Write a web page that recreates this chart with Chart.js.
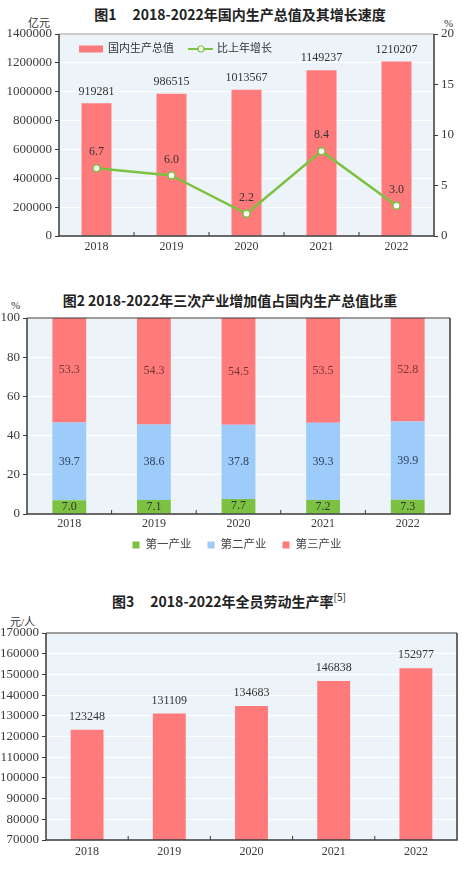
<!DOCTYPE html>
<html lang="zh">
<head>
<meta charset="UTF-8">
<title>2018-2022年国民经济图表</title>
<script src="https://cdn.jsdelivr.net/npm/chart.js@4.4.0/dist/chart.umd.min.js"></script>
<style>
  body { margin: 0; background: #fff; }
  #page { position: relative; width: 474px; height: 872px; overflow: hidden; }
  canvas { position: absolute; left: 0; }
  .title { position: absolute; text-align: center; font: bold 14px 'Noto Sans CJK SC', sans-serif; color: #222; line-height: 20px; white-space: pre; }
  .title .gap { display: inline-block; width: 16px; }
  .title sup { font-size: 10px; font-weight: normal; vertical-align: 6px; line-height: 0; }
  .unit { position: absolute; font: 11px 'Liberation Serif', 'Noto Sans CJK SC', serif; color: #333; line-height: 14px; }
</style>
</head>
<body>
<div id="page">
  <div class="title" style="left:0;width:480px;top:4px">图1<span class="gap"></span>2018-2022年国内生产总值及其增长速度</div>
  <div class="unit" style="left:28px;top:16px">亿元</div>
  <div class="unit" style="left:444px;top:16px">%</div>
  <canvas id="gdpChart" width="474" height="262" style="top:0"></canvas>

  <div class="title" style="left:0;width:460px;top:290px">图2 2018-2022年三次产业增加值占国内生产总值比重</div>
  <div class="unit" style="left:11px;top:298px">%</div>
  <canvas id="shareChart" width="474" height="318" style="top:262px"></canvas>

  <div class="title" style="left:0;width:458px;top:591px">图3<span class="gap"></span>2018-2022年全员劳动生产率<sup>[5]</sup></div>
  <div class="unit" style="left:10px;top:615px">元/人</div>
  <canvas id="laborChart" width="474" height="292" style="top:580px"></canvas>
</div>
<script>
  const years = ['2018', '2019', '2020', '2021', '2022']
  // 图1 国内生产总值（亿元）及比上年增长（%）
  const gdp = [919281, 986515, 1013567, 1149237, 1210207]
  const gdpGrowth = [6.7, 6.0, 2.2, 8.4, 3.0]
  // 图2 三次产业增加值占比（%）
  const primaryShare = [7.0, 7.1, 7.7, 7.2, 7.3]
  const secondaryShare = [39.7, 38.6, 37.8, 39.3, 39.9]
  const tertiaryShare = [53.3, 54.3, 54.5, 53.5, 52.8]
  // 图3 全员劳动生产率（元/人）
  const productivity = [123248, 131109, 134683, 146838, 152977]

  const red = '#FF7B7B'
  const green = '#7DC142'
  const blue = '#9DCBFA'
  const axisColor = '#3a3a3a'
  const serif = "'Liberation Serif', 'Noto Sans CJK SC', serif"

  // light plot background, frame and inward category ticks
  const plotFrame = {
    id: 'plotFrame',
    beforeDraw(chart) {
      const { ctx, chartArea: a } = chart
      ctx.save()
      ctx.fillStyle = '#EDF4F9'
      ctx.fillRect(a.left, a.top, a.width, a.height)
      ctx.restore()
    },
    afterDatasetsDraw(chart, args, opts) {
      const { ctx, chartArea: a, scales: { x } } = chart
      ctx.save()
      ctx.strokeStyle = opts.topColor || '#555'
      ctx.lineWidth = 1
      ctx.beginPath()
      ctx.moveTo(a.left, a.top)
      ctx.lineTo(a.right, a.top)
      ctx.stroke()
      ctx.strokeStyle = axisColor
      ctx.lineWidth = 1.5
      ctx.beginPath()
      ctx.moveTo(a.left, a.top)
      ctx.lineTo(a.left, a.bottom)
      ctx.lineTo(a.right, a.bottom)
      ctx.lineTo(a.right, a.top)
      ctx.stroke()
      ctx.lineWidth = 1
      ctx.beginPath()
      for (let i = 0; i < x.ticks.length - 1; i++) {
        const px = (x.getPixelForTick(i) + x.getPixelForTick(i + 1)) / 2
        ctx.moveTo(px, a.bottom)
        ctx.lineTo(px, a.bottom - 4)
      }
      ctx.stroke()
      ctx.restore()
    }
  }

  // value labels, configured per dataset through `valueLabel`
  const valueLabels = {
    id: 'valueLabels',
    afterDatasetsDraw(chart) {
      const { ctx } = chart
      ctx.save()
      ctx.font = '12px ' + serif
      ctx.textAlign = 'center'
      ctx.textBaseline = 'middle'
      chart.data.datasets.forEach((ds, di) => {
        const lab = ds.valueLabel
        if (!lab) return
        ctx.fillStyle = lab.color
        chart.getDatasetMeta(di).data.forEach((el, i) => {
          const v = ds.data[i]
          const text = lab.decimals != null ? v.toFixed(lab.decimals) : String(v)
          const p = el.getProps(['x', 'y', 'base'], true)
          const y = lab.center ? (p.y + p.base) / 2 : p.y - lab.offset
          ctx.fillText(text, p.x, y)
        })
      })
      ctx.restore()
    }
  }

  const gdpLegend = {
    id: 'gdpLegend',
    afterDraw(chart) {
      const { ctx, chartArea: a } = chart
      const y = a.top + 15
      ctx.save()
      ctx.font = '11px ' + serif
      ctx.textBaseline = 'middle'
      ctx.fillStyle = red
      ctx.fillRect(a.left + 20, y - 3.5, 24, 7)
      ctx.fillStyle = '#333'
      ctx.fillText(chart.data.datasets[0].label, a.left + 49, y)
      ctx.strokeStyle = green
      ctx.lineWidth = 2
      ctx.beginPath()
      ctx.moveTo(a.left + 129, y)
      ctx.lineTo(a.left + 154, y)
      ctx.stroke()
      ctx.beginPath()
      ctx.arc(a.left + 142, y, 3, 0, Math.PI * 2)
      ctx.fillStyle = '#fff'
      ctx.fill()
      ctx.lineWidth = 1.2
      ctx.stroke()
      ctx.fillStyle = '#333'
      ctx.fillText(chart.data.datasets[1].label, a.left + 158, y)
      ctx.restore()
    }
  }

  const shareLegend = {
    id: 'shareLegend',
    afterDraw(chart) {
      const { ctx } = chart
      const y = 283
      ctx.save()
      ctx.font = '11.5px ' + serif
      ctx.textBaseline = 'middle'
      const items = chart.data.datasets.map(ds => ({ label: ds.label, color: ds.backgroundColor, w: 7 + 6 + ctx.measureText(ds.label).width }))
      const total = items.reduce((s, it) => s + it.w, 0) + 16 * (items.length - 1)
      let x = chart.width / 2 - total / 2
      items.forEach(it => {
        ctx.fillStyle = it.color
        ctx.fillRect(x, y - 3.5, 7, 7)
        ctx.fillStyle = '#444'
        ctx.fillText(it.label, x + 13, y)
        x += it.w + 16
      })
      ctx.restore()
    }
  }

  const tickFont = { family: serif, size: 13 }
  const xAxis = (height, pad) => ({
    grid: { display: false, drawTicks: false },
    border: { display: false },
    ticks: { color: axisColor, font: { family: serif, size: 12 }, padding: pad },
    afterFit: s => { s.height = height }
  })
  const yAxis = (width, min, max, step, extra) => Object.assign({
    min: min, max: max,
    grid: { color: '#ffffff', lineWidth: 1, tickColor: axisColor, tickLength: 4 },
    border: { display: false },
    ticks: { stepSize: step, color: axisColor, font: tickFont, autoSkip: false, callback: v => String(v) },
    afterFit: s => { s.width = width }
  }, extra || {})

  const common = {
    responsive: false,
    animation: false,
    events: [],
    plugins: { legend: { display: false }, tooltip: { enabled: false } }
  }

  new Chart(document.getElementById('gdpChart'), {
    type: 'bar',
    data: {
      labels: years,
      datasets: [
        {
          label: '国内生产总值',
          data: gdp,
          backgroundColor: red,
          barPercentage: 0.4,
          categoryPercentage: 1,
          yAxisID: 'y',
          order: 1,
          valueLabel: { color: '#333', offset: 12 }
        },
        {
          type: 'line',
          label: '比上年增长',
          data: gdpGrowth,
          borderColor: green,
          borderWidth: 2.5,
          pointRadius: 3.5,
          pointBackgroundColor: '#fff',
          pointBorderColor: green,
          pointBorderWidth: 1.5,
          yAxisID: 'y1',
          order: 0,
          valueLabel: { color: '#333', offset: 16, decimals: 1 }
        }
      ]
    },
    options: Object.assign({}, common, {
      layout: { padding: { top: 34, left: 0, right: 0, bottom: 0 } },
      plugins: Object.assign({}, common.plugins, { plotFrame: { topColor: '#9a9a9a' } }),
      scales: {
        x: xAxis(26, 4),
        y: yAxis(59, 0, 1400000, 200000),
        y1: yAxis(40, 0, 20, 5, {
          position: 'right',
          grid: { drawOnChartArea: false, tickColor: axisColor, tickLength: 4 }
        })
      }
    }),
    plugins: [plotFrame, valueLabels, gdpLegend]
  })

  new Chart(document.getElementById('shareChart'), {
    type: 'bar',
    data: {
      labels: years,
      datasets: [
        { label: '第一产业', data: primaryShare, backgroundColor: green, valueLabel: { color: '#333', center: true, decimals: 1 } },
        { label: '第二产业', data: secondaryShare, backgroundColor: blue, valueLabel: { color: '#33415f', center: true, decimals: 1 } },
        { label: '第三产业', data: tertiaryShare, backgroundColor: red, valueLabel: { color: '#7a3434', center: true, decimals: 1 } }
      ].map(d => Object.assign(d, { barPercentage: 0.4, categoryPercentage: 1 }))
    },
    options: Object.assign({}, common, {
      layout: { padding: { top: 56, left: 0, right: 24, bottom: 0 } },
      plugins: Object.assign({}, common.plugins, { plotFrame: { topColor: axisColor } }),
      scales: {
        x: Object.assign(xAxis(66, 3), { stacked: true }),
        y: yAxis(27, 0, 100, 20, { stacked: true })
      }
    }),
    plugins: [plotFrame, valueLabels, shareLegend]
  })

  new Chart(document.getElementById('laborChart'), {
    type: 'bar',
    data: {
      labels: years,
      datasets: [
        {
          label: '全员劳动生产率',
          data: productivity,
          backgroundColor: red,
          barPercentage: 0.4,
          categoryPercentage: 1,
          valueLabel: { color: '#333', offset: 13 }
        }
      ]
    },
    options: Object.assign({}, common, {
      layout: { padding: { top: 53, left: 0, right: 17, bottom: 0 } },
      plugins: Object.assign({}, common.plugins, { plotFrame: { topColor: axisColor } }),
      scales: {
        x: xAxis(32, 5),
        y: yAxis(46, 70000, 170000, 10000)
      }
    }),
    plugins: [plotFrame, valueLabels]
  })
</script>
</body>
</html>
